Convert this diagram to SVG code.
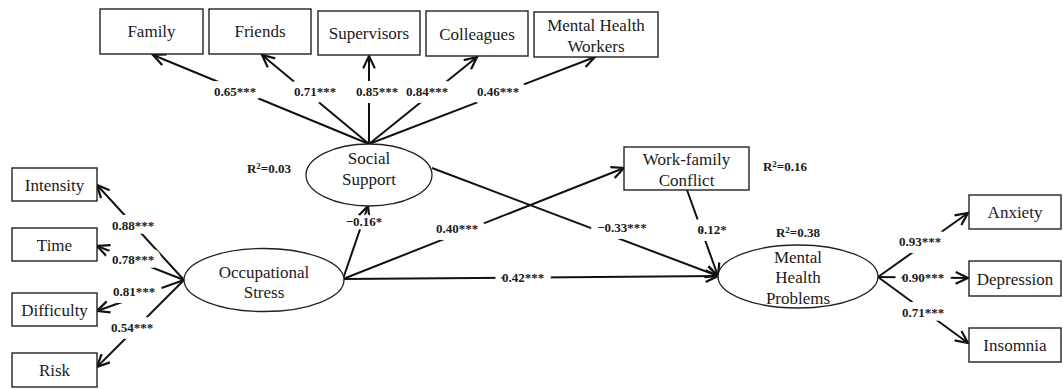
<svg xmlns="http://www.w3.org/2000/svg" width="1063" height="389" viewBox="0 0 1063 389">
<style>
.box{fill:#fff;stroke:#222;stroke-width:1.4}
.ell{fill:#fff;stroke:#222;stroke-width:1.3}
.t{font-family:"Liberation Serif","Times New Roman",serif;font-size:17px;fill:#1a1a1a;text-anchor:middle}
.lab{font-family:"Liberation Serif","Times New Roman",serif;font-size:13px;font-weight:bold;fill:#1a1a1a;text-anchor:middle;paint-order:stroke;stroke:#fff;stroke-width:14px;stroke-linejoin:round}
.r2{font-family:"Liberation Serif","Times New Roman",serif;font-size:13px;font-weight:bold;fill:#1a1a1a;text-anchor:middle}
.c{stroke:#111;stroke-width:2;fill:none;marker-end:url(#ah)}
</style>
<defs>
<marker id="ah" viewBox="0 0 10 10" refX="9.5" refY="5" markerWidth="13" markerHeight="13" markerUnits="userSpaceOnUse" orient="auto" overflow="visible">
<path d="M0,0.5 L9.5,5 L0,9.5" fill="none" stroke="#111" stroke-width="1.7"/>
</marker>
</defs>
<rect width="1063" height="389" fill="#fff"/>
<g id="connectors">
<line class="c" x1="369" y1="144" x2="153" y2="55"/>
<line class="c" x1="369" y1="144" x2="262" y2="55"/>
<line class="c" x1="369" y1="144" x2="369" y2="56"/>
<line class="c" x1="369" y1="144" x2="477" y2="57"/>
<line class="c" x1="369" y1="144" x2="595" y2="57"/>
<line class="c" x1="184" y1="280" x2="97" y2="185"/>
<line class="c" x1="184" y1="280" x2="97" y2="246"/>
<line class="c" x1="184" y1="280" x2="97" y2="311"/>
<line class="c" x1="184" y1="280" x2="97" y2="367"/>
<line class="c" x1="343" y1="279" x2="368" y2="206"/>
<line class="c" x1="343" y1="279" x2="624" y2="168"/>
<line class="c" x1="343" y1="279" x2="718" y2="276"/>
<line class="c" x1="432" y1="168" x2="718" y2="276"/>
<line class="c" x1="687" y1="190" x2="718" y2="276"/>
<line class="c" x1="878" y1="277" x2="968" y2="213"/>
<line class="c" x1="878" y1="277" x2="968" y2="278"/>
<line class="c" x1="878" y1="277" x2="968" y2="343"/>
<text class="lab" x="235" y="96">0.65***</text>
<text class="lab" x="315" y="96">0.71***</text>
<text class="lab" x="377" y="96">0.85***</text>
<text class="lab" x="427" y="96">0.84***</text>
<text class="lab" x="498" y="96">0.46***</text>
<text class="lab" x="133" y="230">0.88***</text>
<text class="lab" x="133" y="264">0.78***</text>
<text class="lab" x="134" y="296">0.81***</text>
<text class="lab" x="132" y="332">0.54***</text>
<text class="lab" x="364" y="226" style="stroke-width:7px">−0.16*</text>
<text class="lab" x="457" y="233">0.40***</text>
<text class="lab" x="523" y="282">0.42***</text>
<text class="lab" x="622" y="232">−0.33***</text>
<text class="lab" x="712" y="234">0.12*</text>
<text class="lab" x="920" y="246">0.93***</text>
<text class="lab" x="923" y="282">0.90***</text>
<text class="lab" x="923" y="317">0.71***</text>
</g>
<g id="r2labels">
<text class="r2" x="269" y="173">R<tspan font-size="9" dy="-4">2</tspan><tspan dy="4">=0.03</tspan></text>
<text class="r2" x="785" y="171">R<tspan font-size="9" dy="-4">2</tspan><tspan dy="4">=0.16</tspan></text>
<text class="r2" x="798" y="237">R<tspan font-size="9" dy="-4">2</tspan><tspan dy="4">=0.38</tspan></text>
</g>
<g id="family"><rect class="box" x="100" y="9" width="103" height="45"/><text class="t" x="151.5" y="37">Family</text></g>
<g id="friends"><rect class="box" x="209" y="9" width="102" height="45"/><text class="t" x="260" y="37">Friends</text></g>
<g id="supervisors"><rect class="box" x="318" y="11" width="102" height="44"/><text class="t" x="369" y="39">Supervisors</text></g>
<g id="colleagues"><rect class="box" x="426" y="11" width="102" height="45"/><text class="t" x="477" y="39.5">Colleagues</text></g>
<g id="mhw"><rect class="box" x="534" y="12" width="124" height="45"/><text class="t" x="596" y="31">Mental Health</text><text class="t" x="596" y="52">Workers</text></g>
<g id="social-support"><ellipse class="ell" cx="369" cy="175" rx="63" ry="31"/><text class="t" x="369" y="164">Social</text><text class="t" x="369" y="185">Support</text></g>
<g id="intensity"><rect class="box" x="12" y="168" width="85" height="33"/><text class="t" x="54.5" y="190.5">Intensity</text></g>
<g id="time"><rect class="box" x="12" y="228" width="85" height="33"/><text class="t" x="54.5" y="250.5">Time</text></g>
<g id="difficulty"><rect class="box" x="12" y="293" width="85" height="33"/><text class="t" x="54.5" y="315.5">Difficulty</text></g>
<g id="risk"><rect class="box" x="12" y="353" width="85" height="34"/><text class="t" x="54.5" y="376">Risk</text></g>
<g id="occupational-stress"><ellipse class="ell" cx="264" cy="280" rx="80" ry="31.5"/><text class="t" x="264" y="278">Occupational</text><text class="t" x="264" y="298">Stress</text></g>
<g id="work-family-conflict"><rect class="box" x="624" y="147" width="125" height="43"/><text class="t" x="686.5" y="165">Work-family</text><text class="t" x="686.5" y="186">Conflict</text></g>
<g id="mental-health-problems"><ellipse class="ell" cx="798" cy="276.5" rx="80" ry="31.5"/><text class="t" x="798" y="263">Mental</text><text class="t" x="798" y="283">Health</text><text class="t" x="798" y="304">Problems</text></g>
<g id="anxiety"><rect class="box" x="969" y="195" width="92" height="34"/><text class="t" x="1015" y="218">Anxiety</text></g>
<g id="depression"><rect class="box" x="969" y="261" width="92" height="35"/><text class="t" x="1015" y="284.5">Depression</text></g>
<g id="insomnia"><rect class="box" x="969" y="328" width="92" height="34"/><text class="t" x="1015" y="351">Insomnia</text></g>
</svg>
